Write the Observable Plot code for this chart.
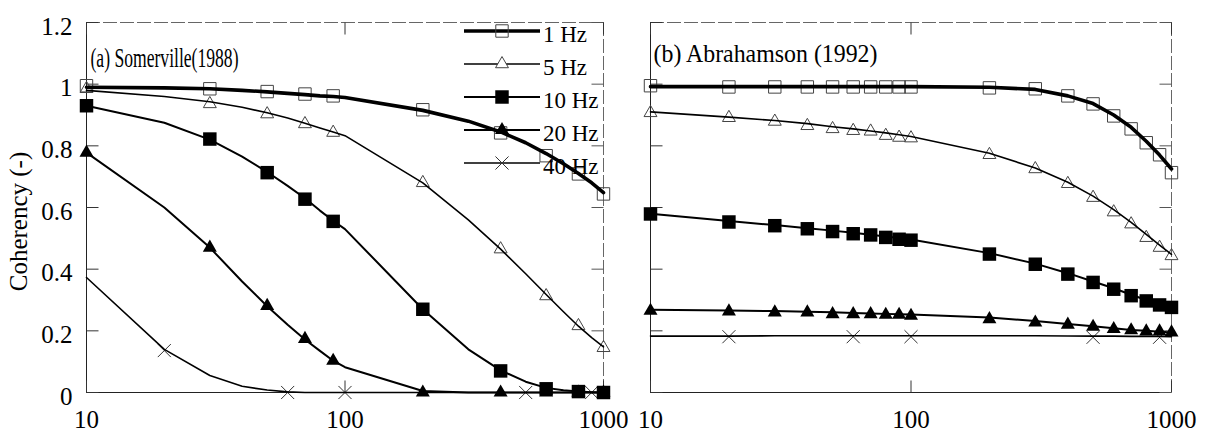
<!DOCTYPE html>
<html>
<head>
<meta charset="utf-8">
<script src="https://cdn.jsdelivr.net/npm/d3@7"></script>
<script src="https://cdn.jsdelivr.net/npm/@observablehq/plot@0.6"></script>
<style>
  html, body { margin: 0; padding: 0; background: #fff; }
  #wrap { position: relative; width: 1210px; height: 436px; display: flex; flex-direction: row; }
  #wrap > svg { display: block; }
  #wrap text { font-family: 'Liberation Serif', 'Times New Roman', Times, serif; }
  #legend { position: absolute; left: 0; top: 0; pointer-events: none; }
</style>
</head>
<body>
<div id="wrap"></div>
<script>
// ---------- data ----------
const series = ["1 Hz", "5 Hz", "10 Hz", "20 Hz", "40 Hz"];
const xTicks = [10, 100, 1000];
const xTickLabels = ["10", "100", "1000"];
const yTicks = [0, 0.2, 0.4, 0.6, 0.8, 1, 1.2];
const yTickLabels = ["0", "0.2", "0.4", "0.6", "0.8", "1", "1.2"];
const yTitle = "Coherency (-)";

// x grid along which the curves are drawn (distance)
const xs = [10, 20, 30, 40, 50, 60, 70, 80, 90, 100, 200, 300, 400, 500, 600, 700, 800, 900, 1000];

// Panel (a) Somerville(1988) – curves
const labelA = "(a) Somerville(1988)";
const a1Hz  = [0.99, 0.988, 0.985, 0.98, 0.975, 0.97, 0.966, 0.962, 0.96, 0.957, 0.915, 0.88, 0.845, 0.81, 0.775, 0.742, 0.71, 0.68, 0.648];
const a5Hz  = [0.98, 0.96, 0.943, 0.925, 0.907, 0.89, 0.873, 0.858, 0.845, 0.833, 0.68, 0.56, 0.465, 0.385, 0.318, 0.262, 0.215, 0.178, 0.148];
const a10Hz = [0.93, 0.875, 0.82, 0.765, 0.715, 0.67, 0.63, 0.59, 0.557, 0.53, 0.27, 0.14, 0.072, 0.035, 0.015, 0.007, 0.003, 0.001, 0];
const a20Hz = [0.778, 0.6, 0.47, 0.36, 0.28, 0.22, 0.172, 0.135, 0.103, 0.082, 0.005, 0, 0, 0, 0, 0, 0, 0, 0];
const a40Hz = [0.373, 0.14, 0.055, 0.02, 0.008, 0.002, 0, 0, 0, 0, 0, 0, 0, 0, 0, 0, 0, 0, 0];
// Panel (a) – markers
const aMarkX   = [10, 30, 50, 70, 90, 200, 400, 600, 800, 1000];
const aMark1   = [0.995, 0.985, 0.976, 0.968, 0.962, 0.917, 0.842, 0.768, 0.709, 0.644];
const aMark5   = [0.985, 0.936, 0.903, 0.871, 0.843, 0.68, 0.465, 0.313, 0.216, 0.145];
const aMark10  = [0.93, 0.822, 0.713, 0.627, 0.555, 0.27, 0.07, 0.012, 0.003, 0];
const aMark20  = [0.778, 0.47, 0.281, 0.174, 0.103, 0, 0, 0, 0, 0];
const aMarkX40 = [20, 60, 100, 500, 900];
const aMark40  = [0.136, 0, 0, 0, 0];

// Panel (b) Abrahamson (1992) – curves
const labelB = "(b) Abrahamson (1992)";
const b1Hz  = [0.992, 0.992, 0.992, 0.992, 0.992, 0.992, 0.992, 0.992, 0.992, 0.992, 0.99, 0.983, 0.962, 0.937, 0.9, 0.86, 0.815, 0.77, 0.725];
const b5Hz  = [0.91, 0.893, 0.882, 0.872, 0.862, 0.855, 0.848, 0.842, 0.836, 0.83, 0.776, 0.728, 0.682, 0.637, 0.593, 0.552, 0.513, 0.478, 0.448];
const b10Hz = [0.58, 0.556, 0.543, 0.533, 0.525, 0.518, 0.512, 0.506, 0.501, 0.496, 0.452, 0.418, 0.387, 0.36, 0.338, 0.317, 0.3, 0.287, 0.277];
const b20Hz = [0.268, 0.266, 0.264, 0.262, 0.26, 0.258, 0.256, 0.255, 0.254, 0.253, 0.243, 0.232, 0.222, 0.215, 0.208, 0.203, 0.2, 0.197, 0.195];
const b40Hz = [0.183, 0.183, 0.184, 0.184, 0.184, 0.184, 0.184, 0.184, 0.184, 0.184, 0.184, 0.184, 0.183, 0.183, 0.183, 0.182, 0.182, 0.182, 0.181];
// Panel (b) – markers
const bMarkX   = [10, 20, 30, 40, 50, 60, 70, 80, 90, 100, 200, 300, 400, 500, 600, 700, 800, 900, 1000];
const bMark1   = [0.995, 0.991, 0.991, 0.991, 0.991, 0.991, 0.991, 0.991, 0.991, 0.991, 0.988, 0.985, 0.962, 0.936, 0.897, 0.855, 0.81, 0.771, 0.713];
const bMark5   = [0.907, 0.891, 0.879, 0.865, 0.855, 0.849, 0.847, 0.833, 0.827, 0.825, 0.771, 0.725, 0.677, 0.632, 0.585, 0.546, 0.502, 0.47, 0.443];
const bMark10  = [0.579, 0.553, 0.541, 0.531, 0.522, 0.515, 0.511, 0.503, 0.497, 0.494, 0.449, 0.416, 0.384, 0.357, 0.335, 0.314, 0.297, 0.284, 0.276];
const bMark20  = [0.265, 0.263, 0.26, 0.26, 0.254, 0.254, 0.254, 0.252, 0.252, 0.249, 0.238, 0.227, 0.22, 0.213, 0.206, 0.202, 0.198, 0.198, 0.195];
const bMarkX40 = [20, 60, 100, 500, 900];
const bMark40  = [0.181, 0.181, 0.181, 0.179, 0.179];

// ---------- styling ----------
const FONT = "'Liberation Serif', 'Times New Roman', Times, serif";
const styles = [
  {sw: 3.6, symbol: "square",   r: 7,   fill: "none",  stroke: "#444", mw: 1},
  {sw: 1.6, symbol: "triangle", r: 4.8, fill: "none",  stroke: "#444", mw: 1},
  {sw: 2.0, symbol: "square",   r: 7.6, fill: "#000",  stroke: "none", mw: 0},
  {sw: 2.0, symbol: "triangle", r: 5.2, fill: "#000",  stroke: "none", mw: 0},
  {sw: 1.6, symbol: "times",    r: 6,   fill: "none",  stroke: "#333", mw: 1}
];
const tickSym = (dx, dy) => ({draw(ctx) { ctx.moveTo(0, 0); ctx.lineTo(dx, dy); }});
const TXT = {fontFamily: FONT, fill: "#000"};

function panel(o) {
  const lineRows = i => xs.map((x, j) => ({x, y: o.lines[i][j]}));
  const markRows = i => (i === 4 ? o.markX40 : o.markX).map((x, j) => ({x, y: o.marks[i][j]}));
  const m = [];
  // frame
  m.push(Plot.ruleY([1.2], {stroke: "#666", strokeWidth: 1, strokeDasharray: "14,3"}));
  m.push(Plot.ruleX([1000], {stroke: "#666", strokeWidth: 1, strokeDasharray: "14,3"}));
  m.push(Plot.ruleX([10], {stroke: "#222", strokeWidth: 1}));
  m.push(Plot.ruleY([0], {stroke: "#222", strokeWidth: 1}));
  // inward ticks
  m.push(Plot.dot(yTicks, {x: () => 10, y: d => d, symbol: tickSym(12, 0), stroke: "#333", fill: "none", strokeWidth: 1}));
  m.push(Plot.dot(yTicks, {x: () => 1000, y: d => d, symbol: tickSym(-12, 0), stroke: "#555", fill: "none", strokeWidth: 1}));
  m.push(Plot.dot(xTicks, {x: d => d, y: () => 1.2, symbol: tickSym(0, 12), stroke: "#333", fill: "none", strokeWidth: 1}));
  m.push(Plot.dot(xTicks, {x: d => d, y: () => 0, symbol: tickSym(0, -12), stroke: "#333", fill: "none", strokeWidth: 1}));
  // open markers
  [0, 1, 4].forEach(i => m.push(Plot.dot(markRows(i), {x: "x", y: "y", symbol: styles[i].symbol, r: styles[i].r, fill: "none", stroke: styles[i].stroke, strokeWidth: styles[i].mw})));
  // curves
  [0, 1, 2, 3, 4].forEach(i => m.push(Plot.line(lineRows(i), {x: "x", y: "y", stroke: "#000", strokeWidth: styles[i].sw, curve: "linear"})));
  // filled markers on top
  [2, 3].forEach(i => m.push(Plot.dot(markRows(i), {x: "x", y: "y", symbol: styles[i].symbol, r: styles[i].r, fill: "#000", stroke: "none"})));
  // x tick labels
  m.push(Plot.text(xTicks, {...TXT, x: d => d, y: () => 0, text: (d, i) => xTickLabels[i], dy: 27, fontSize: 25}));
  if (o.showY) {
    m.push(Plot.text(yTicks, {...TXT, x: () => 10, y: d => d, text: (d, i) => yTickLabels[i], textAnchor: "end", dx: -14, dy: 4, fontSize: 25}));
    m.push(Plot.text([yTitle], {...TXT, frameAnchor: "left", textAnchor: "middle", rotate: -90, dx: -68, dy: 14, fontSize: 25}));
  }
  // panel label
  m.push(Plot.text([o.label], {...TXT, frameAnchor: "top-left", textAnchor: "start", lineAnchor: "bottom", dx: o.labelDx, dy: o.labelDy, fontSize: o.labelSize}));

  const svg = Plot.plot({
    width: o.width, height: 436,
    marginTop: 22, marginBottom: 44, marginLeft: o.marginLeft, marginRight: o.marginRight,
    style: {fontFamily: FONT, background: "#fff", color: "#000", overflow: "visible"},
    x: {type: "log", domain: [10, 1000], axis: null},
    y: {domain: [0, 1.2], axis: null},
    marks: m
  });
  svg.setAttribute("font-family", FONT);
  svg.querySelectorAll("text").forEach(t => {
    if (t.textContent === o.label && o.labelWidth) {
      t.setAttribute("textLength", o.labelWidth);
      t.setAttribute("lengthAdjust", "spacingAndGlyphs");
    }
  });
  return svg;
}

const wrap = document.getElementById("wrap");
wrap.appendChild(panel({
  lines: [a1Hz, a5Hz, a10Hz, a20Hz, a40Hz],
  marks: [aMark1, aMark5, aMark10, aMark20, aMark40],
  markX: aMarkX, markX40: aMarkX40,
  label: labelA, labelWidth: 148, labelSize: 27, labelDx: 4, labelDy: 44,
  width: 628, marginLeft: 86, marginRight: 25, showY: true
}));
wrap.appendChild(panel({
  lines: [b1Hz, b5Hz, b10Hz, b20Hz, b40Hz],
  marks: [bMark1, bMark5, bMark10, bMark20, bMark40],
  markX: bMarkX, markX40: bMarkX40,
  label: labelB, labelWidth: 224, labelSize: 25, labelDx: 3, labelDy: 39,
  width: 582, marginLeft: 22, marginRight: 39, showY: false
}));

// ---------- legend (inside panel a, upper right) ----------
const leg = d3.select(wrap).append("svg")
  .attr("id", "legend").attr("width", 628).attr("height", 200)
  .attr("font-family", FONT);
const symMap = {square: d3.symbolSquare, triangle: d3.symbolTriangle, times: d3.symbolTimes};
series.forEach((name, i) => {
  const s = styles[i];
  const y = 31 + 33 * i;
  const g = leg.append("g").attr("transform", `translate(0,${y})`);
  g.append("line").attr("x1", 464).attr("x2", 540).attr("y1", 0).attr("y2", 0)
    .attr("stroke", "#000").attr("stroke-width", s.sw);
  g.append("path")
    .attr("transform", "translate(502,0)")
    .attr("d", d3.symbol(symMap[s.symbol], Math.PI * s.r * s.r)())
    .attr("fill", s.fill === "none" ? (i === 0 ? "none" : "#fff") : s.fill)
    .attr("stroke", s.stroke === "none" ? "none" : s.stroke)
    .attr("stroke-width", s.mw);
  g.append("text").attr("x", 543).attr("y", 4).attr("dy", "0.32em")
    .attr("font-size", 23).attr("fill", "#000").attr("font-family", FONT).text(name);
});
</script>
</body>
</html>
